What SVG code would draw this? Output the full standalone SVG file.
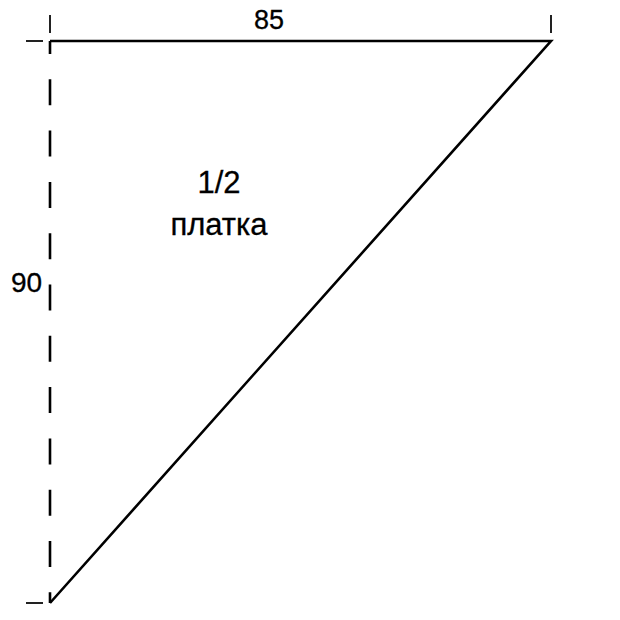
<svg xmlns="http://www.w3.org/2000/svg" width="620" height="620" viewBox="0 0 620 620">
<style>
.ln{stroke:#000;stroke-width:2.6;fill:none;stroke-linecap:butt}
.tk{stroke:#222;stroke-width:2;fill:none}
.dash{stroke:#000;stroke-width:2.6;fill:none;stroke-dasharray:26 25.3;stroke-dashoffset:13}
.t{font-family:"Liberation Sans",Arial,sans-serif;fill:#000;text-anchor:middle;stroke:#000;stroke-width:0.3}
</style>
<rect width="620" height="620" fill="#fff"/>
<g id="shape">
<path class="ln" d="M50,41 L551,41 L50,603"/>
<path class="dash" d="M50,41 L50,603"/>
</g>
<g id="dimensions">
<path class="tk" d="M50,15 V33 M26,41 H43 M551,15 V33 M26,603 H43"/>
<text class="t" x="269" y="29" font-size="27">85</text>
<text class="t" x="26.5" y="292" font-size="28">90</text>
</g>
<g id="label">
<text class="t" x="219" y="193" font-size="31">1/2</text>
<text class="t" x="219" y="235" font-size="31">платка</text>
</g>
</svg>
